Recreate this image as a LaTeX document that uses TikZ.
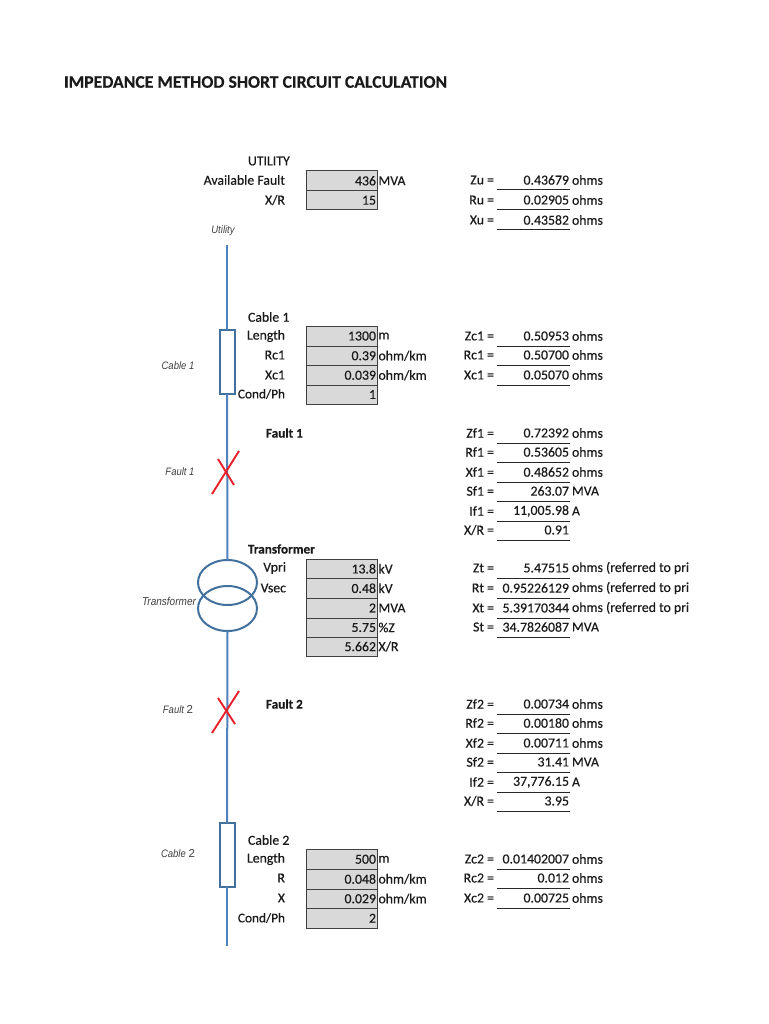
\documentclass[tikz,border=0pt]{standalone}
\usepackage{fontspec}
\setmainfont{Carlito}[RawFeature={embolden=0.35}]
\newfontfamily\arialish{Liberation Sans}[FakeStretch=0.88]
\newfontfamily\capdigit{Liberation Sans}
\usetikzlibrary{shapes.geometric}
\definecolor{linecol}{HTML}{4F81BD}
\definecolor{symcol}{HTML}{41719C}
\definecolor{cellgray}{HTML}{D9D9D9}
\definecolor{faultred}{HTML}{E8202A}
\definecolor{inktext}{HTML}{1A1A1A}
\definecolor{captext}{HTML}{404040}
\tikzset{
  every node/.style={inner sep=0pt,outer sep=0pt,text=inktext,font=\fontsize{13.8}{15}\selectfont},
  rlabel/.style={anchor=east},
  llabel/.style={anchor=west},
  diagcap/.style={font=\arialish\itshape\fontsize{10.8}{12}\selectfont,text=captext},
  cell/.style={draw=black!75,line width=1pt,fill=cellgray,minimum width=71pt,minimum height=#1,text width=69pt,align=right},
  rule/.style={draw=black!85,line width=1pt},
  bus/.style={draw=linecol,line width=2pt},
  thinbus/.style={draw=linecol,line width=1.4pt},
  cablebox/.style={draw=symcol,line width=2pt,fill=white,minimum width=15pt,minimum height=64pt},
  winding/.style={draw=symcol,line width=2pt,ellipse,minimum width=59pt,minimum height=45pt},
  fault/.style={draw=faultred,line width=1.9pt},
  condlabel/.style={anchor=east,font=\fontsize{13.3}{15}\selectfont}
}
% result row: name, y, label, value, unit
\newcommand{\resrow}[5]{%
  \node[rlabel] (#1l) at (494,#2) {#3};
  \node[rlabel] (#1v) at (569,#2) {#4};
  \node[llabel] (#1u) at (572,#2) {#5};
  \coordinate (#1a) at (497,#2+10);
  \coordinate (#1b) at (570,#2+10);
  \draw[rule] (#1a) -- (#1b);
}
% input cell: name, top y, bottom y, value, unit
\newcommand{\incell}[5]{%
  \node[cell=#3pt-#2pt,anchor=north west] (#1) at (306,#2) {#4};
  \node[llabel] (#1u) at (378.5,#2/2+#3/2) {#5};
}
\begin{document}
\begin{tikzpicture}[x=1pt,y=-1pt]
\useasboundingbox[fill=white] (0,0) rectangle (768,1024);
\node[llabel,font=\bfseries\fontsize{17.7}{19}\selectfont] (title) at (64,82) {IMPEDANCE METHOD SHORT CIRCUIT CALCULATION};

% single line diagram
\coordinate (lineTop) at (227,245);
\coordinate (lineEnd) at (227,946);
\node[cablebox] (cableA) at (227,362) {};
\node[cablebox] (cableB) at (227,854.5) {};
\node[winding] (xfmrTop) at (227.5,582.5) {};
\node[winding] (xfmrBot) at (227.5,608.5) {};
\draw[thinbus] (lineTop) -- (cableA.north);
\draw[bus] (cableA.south) -- (xfmrTop.north);
\draw[bus] (xfmrBot.south) -- (cableB.north);
\draw[bus] (cableB.south) -- (lineEnd);
\coordinate (fa1) at (212,494); \coordinate (fa2) at (239,451);
\coordinate (fa3) at (218,459); \coordinate (fa4) at (234,485);
\draw[fault] (fa1) -- (fa2);
\draw[fault] (fa3) -- (fa4);
\coordinate (fb1) at (212,733); \coordinate (fb2) at (239,691);
\coordinate (fb3) at (218,698); \coordinate (fb4) at (235,724);
\draw[fault] (fb1) -- (fb2);
\draw[fault] (fb3) -- (fb4);

% diagram captions
\node[diagcap] (capU) at (223,231) {Utility};
\node[diagcap] (capC1) at (178,366) {Cable 1};
\node[diagcap] (capF1) at (180,472) {Fault 1};
\node[diagcap,font=\arialish\itshape\fontsize{11.4}{12}\selectfont] (capT) at (169,601) {Transformer};
\node[diagcap] (capF2) at (178,710) {Fault {\capdigit\upshape\fontsize{11.5}{12}\selectfont 2}};
\node[diagcap] (capC2) at (178,854) {Cable {\capdigit\upshape\fontsize{11.5}{12}\selectfont 2}};

% left labels
\node[llabel] (hU) at (248,161) {UTILITY};
\node[rlabel] (lAF) at (285,180) {Available Fault};
\node[rlabel] (lXR) at (285,200) {X/R};
\node[llabel] (hC1) at (248,317) {Cable 1};
\node[rlabel] (lLen1) at (285,336) {Length};
\node[rlabel] (lRc1) at (285,355) {Rc1};
\node[rlabel] (lXc1) at (285,375) {Xc1};
\node[condlabel] (lCP1) at (285,394) {Cond/Ph};
\node[llabel,font=\bfseries\fontsize{13.2}{15}\selectfont] (hF1) at (266,433) {Fault 1};
\node[llabel,font=\bfseries\fontsize{13.2}{15}\selectfont] (hT) at (248,549) {Transformer};
\node[rlabel] (lVp) at (286,568) {Vpri};
\node[rlabel] (lVs) at (286,588) {Vsec};
\node[llabel,font=\bfseries\fontsize{13.2}{15}\selectfont] (hF2) at (266,704) {Fault 2};
\node[llabel] (hC2) at (248,840) {Cable 2};
\node[rlabel] (lLen2) at (285,859) {Length};
\node[rlabel] (lR2) at (285,878) {R};
\node[rlabel] (lX2) at (285,898) {X};
\node[condlabel] (lCP2) at (285,918) {Cond/Ph};

% input cells
\incell{cAF}{171}{190.5}{436}{MVA}
\incell{cXR}{190.5}{210}{15}{}
\incell{cLen1}{326}{346}{1300}{m}
\incell{cRc1}{346}{365.5}{0.39}{ohm/km}
\incell{cXc1}{365.5}{385}{0.039}{ohm/km}
\incell{cCP1}{385}{404}{1}{}
\incell{cVp}{559}{578.5}{13.8}{kV}
\incell{cVs}{578.5}{598}{0.48}{kV}
\incell{cMVA}{598}{618}{2}{MVA}
\incell{cZ}{618}{637}{5.75}{\%Z}
\incell{cTXR}{637}{656}{5.662}{X/R}
\incell{cLen2}{849.5}{869}{500}{m}
\incell{cR2}{869}{889}{0.048}{ohm/km}
\incell{cX2}{889}{908.5}{0.029}{ohm/km}
\incell{cCP2}{908.5}{928}{2}{}

% results
\resrow{zu}{180}{Zu =}{0.43679}{ohms}
\resrow{ru}{200}{Ru =}{0.02905}{ohms}
\resrow{xu}{220}{Xu =}{0.43582}{ohms}
\resrow{zca}{336}{Zc1 =}{0.50953}{ohms}
\resrow{rca}{355}{Rc1 =}{0.50700}{ohms}
\resrow{xca}{375}{Xc1 =}{0.05070}{ohms}
\resrow{zfa}{433}{Zf1 =}{0.72392}{ohms}
\resrow{rfa}{452}{Rf1 =}{0.53605}{ohms}
\resrow{xfa}{472}{Xf1 =}{0.48652}{ohms}
\resrow{sfa}{491}{Sf1 =}{263.07}{MVA}
\resrow{ifa}{511}{If1 =}{11,005.98\hspace{3pt}}{A}
\resrow{xra}{530}{X/R =}{0.91}{}
\resrow{zt}{568}{Zt =}{5.47515}{ohms (referred to pri}
\resrow{rt}{588}{Rt =}{0.95226129}{ohms (referred to pri}
\resrow{xt}{608}{Xt =}{5.39170344}{ohms (referred to pri}
\resrow{st}{627}{St =}{34.7826087}{MVA}
\resrow{zfb}{704}{Zf2 =}{0.00734}{ohms}
\resrow{rfb}{723}{Rf2 =}{0.00180}{ohms}
\resrow{xfb}{743}{Xf2 =}{0.00711}{ohms}
\resrow{sfb}{762}{Sf2 =}{31.41}{MVA}
\resrow{ifb}{782}{If2 =}{37,776.15\hspace{3pt}}{A}
\resrow{xrb}{801}{X/R =}{3.95}{}
\resrow{zcb}{859}{Zc2 =}{0.01402007}{ohms}
\resrow{rcb}{878}{Rc2 =}{0.012}{ohms}
\resrow{xcb}{898}{Xc2 =}{0.00725}{ohms}
\end{tikzpicture}
\end{document}
